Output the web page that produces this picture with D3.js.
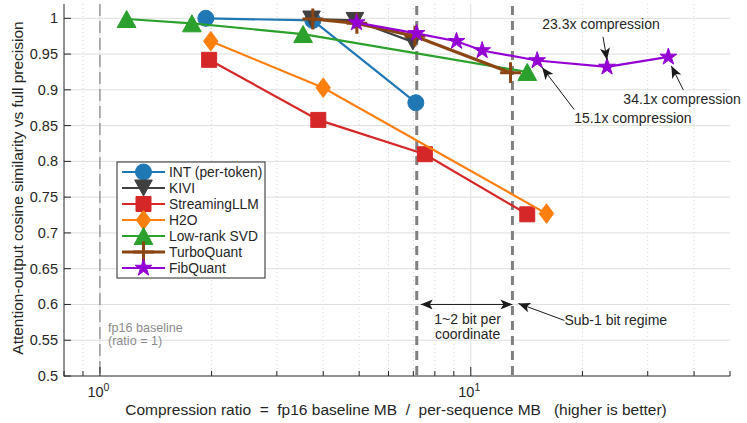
<!DOCTYPE html>
<html>
<head>
<meta charset="utf-8">
<script src="https://cdn.jsdelivr.net/npm/d3@7"></script>
<style>
  html, body { margin: 0; padding: 0; background: #fff; }
  svg { display: block; font-family: "Liberation Sans", Arial, Helvetica, sans-serif; }
</style>
</head>
<body>
<svg id="chart" width="747" height="423"></svg>
<script>
// ---------------- data ----------------
const seriesNames = ["INT (per-token)", "KIVI", "StreamingLLM", "H2O", "Low-rank SVD", "TurboQuant", "FibQuant"];
const seriesColors = ["#1f77b4", "#404040", "#d62728", "#ff7f0e", "#2ca02c", "#8b4513", "#9400d3"];
const seriesMarkers = ["circle", "triangleDown", "square", "diamond", "triangleUp", "plus", "star"];

const intX = [1.93, 3.75, 7.11];
const intY = [1.0, 0.997, 0.882];
const kiviX = [3.72, 4.87, 6.98];
const kiviY = [0.999, 0.997, 0.967];
const streamX = [1.97, 3.88, 7.52, 14.2];
const streamY = [0.942, 0.858, 0.810, 0.726];
const h2oX = [1.99, 4.0, 16.0];
const h2oY = [0.968, 0.903, 0.727];
const svdX = [1.18, 1.77, 3.53, 14.2];
const svdY = [0.999, 0.993, 0.978, 0.925];
const turboX = [3.75, 4.93, 7.07, 12.8];
const turboY = [0.999, 0.993, 0.975, 0.924];
const fibX = [4.92, 7.14, 9.15, 10.73, 15.1, 23.3, 34.1];
const fibY = [0.994, 0.979, 0.968, 0.955, 0.941, 0.932, 0.946];

const seriesXs = [intX, kiviX, streamX, h2oX, svdX, turboX, fibX];
const seriesYs = [intY, kiviY, streamY, h2oY, svdY, turboY, fibY];

const yTicks = [0.5, 0.55, 0.6, 0.65, 0.7, 0.75, 0.8, 0.85, 0.9, 0.95, 1];
const yTickLabels = ["0.5", "0.55", "0.6", "0.65", "0.7", "0.75", "0.8", "0.85", "0.9", "0.95", "1"];
const xMajorTicks = [1, 10];
const xMajorExp = ["0", "1"];
const xMinorTicks = [0.8, 0.9, 2, 3, 4, 5, 6, 7, 8, 9, 20, 30, 40, 50];

const regionLines = [7.15, 12.95];   // 1~2 bit per coordinate region bounds
const baselineRatio = 1;

// ---------------- layout ----------------
const svg = d3.select("#chart");
const plot = { left: 64, right: 730, top: 4, bottom: 376 };
const x = d3.scaleLog().domain([0.8, 50]).range([plot.left, plot.right]);
const y = d3.scaleLinear().domain([0.5, 1.02]).range([plot.bottom, plot.top]);

const g = svg.append("g");

// minor vertical grid (dotted)
g.selectAll(".minorgrid").data(xMinorTicks.filter(v => v > 0.8 && v < 50)).enter()
  .append("line")
  .attr("x1", d => x(d)).attr("x2", d => x(d))
  .attr("y1", plot.top).attr("y2", plot.bottom)
  .attr("stroke", "#d4d4d4").attr("stroke-width", 1).attr("stroke-dasharray", "1,3");

// major grid
g.selectAll(".hgrid").data(yTicks.filter(v => v > 0.5)).enter()
  .append("line")
  .attr("x1", plot.left).attr("x2", plot.right)
  .attr("y1", d => y(d)).attr("y2", d => y(d))
  .attr("stroke", "#dedede").attr("stroke-width", 1);
g.selectAll(".vgrid").data(xMajorTicks).enter()
  .append("line")
  .attr("x1", d => x(d)).attr("x2", d => x(d))
  .attr("y1", plot.top).attr("y2", plot.bottom)
  .attr("stroke", "#dedede").attr("stroke-width", 1);

// baseline dashed line
g.append("line")
  .attr("x1", x(baselineRatio)).attr("x2", x(baselineRatio))
  .attr("y1", plot.top).attr("y2", plot.bottom)
  .attr("stroke", "#707070").attr("stroke-width", 1).attr("stroke-dasharray", "12,5");

// region dashed lines
g.selectAll(".region").data(regionLines).enter()
  .append("line")
  .attr("x1", d => x(d)).attr("x2", d => x(d))
  .attr("y1", plot.top + 2).attr("y2", plot.bottom)
  .attr("stroke", "#808080").attr("stroke-width", 3).attr("stroke-dasharray", "9,6");

// axes lines
g.append("line").attr("x1", plot.left).attr("x2", plot.left).attr("y1", plot.top).attr("y2", plot.bottom + 0.5)
  .attr("stroke", "#262626").attr("stroke-width", 1);
g.append("line").attr("x1", plot.left).attr("x2", plot.right).attr("y1", plot.bottom).attr("y2", plot.bottom)
  .attr("stroke", "#262626").attr("stroke-width", 1);

// y ticks (inward)
g.selectAll(".ytick").data(yTicks).enter().append("line")
  .attr("x1", plot.left).attr("x2", plot.left + 7)
  .attr("y1", d => y(d)).attr("y2", d => y(d))
  .attr("stroke", "#262626");
g.selectAll(".ylab").data(yTicks).enter().append("text")
  .attr("x", plot.left - 6).attr("y", d => y(d))
  .attr("text-anchor", "end").attr("dominant-baseline", "central")
  .attr("font-size", 14.5).attr("fill", "#262626")
  .text((d, i) => yTickLabels[i]);

// x ticks
g.selectAll(".xmaj").data(xMajorTicks).enter().append("line")
  .attr("x1", d => x(d)).attr("x2", d => x(d))
  .attr("y1", plot.bottom).attr("y2", plot.bottom - 9)
  .attr("stroke", "#262626");
g.selectAll(".xmin").data(xMinorTicks).enter().append("line")
  .attr("x1", d => x(d)).attr("x2", d => x(d))
  .attr("y1", plot.bottom).attr("y2", plot.bottom - 5)
  .attr("stroke", "#262626");
const xl = g.selectAll(".xlab").data(xMajorTicks).enter().append("text")
  .attr("x", d => x(d) - 1.5).attr("y", plot.bottom + 21)
  .attr("text-anchor", "middle").attr("font-size", 14.5).attr("fill", "#262626");
xl.append("tspan").text("10");
xl.append("tspan").attr("dy", -6).attr("font-size", 10.5).text((d, i) => xMajorExp[i]);

// axis titles
svg.append("text")
  .attr("x", 396).attr("y", 415)
  .attr("text-anchor", "middle").attr("font-size", 15.5).attr("fill", "#262626")
  .attr("xml:space", "preserve")
  .text("Compression ratio  =  fp16 baseline MB  /  per-sequence MB   (higher is better)");
svg.append("text")
  .attr("transform", "translate(23,188) rotate(-90)")
  .attr("text-anchor", "middle").attr("font-size", 15.5).attr("fill", "#262626")
  .text("Attention-output cosine similarity vs full precision");

// ---------------- markers ----------------
function markerPath(type, s) {
  const h = s / 2;
  switch (type) {
    case "circle": return d3.symbol(d3.symbolCircle, Math.PI * h * h)();
    case "square": return `M${-h},${-h}H${h}V${h}H${-h}Z`;
    case "diamond": { const w = h * 0.85, t = h * 1.15; return `M0,${-t}L${w},0L0,${t}L${-w},0Z`; }
    case "triangleUp": { const w = h * 1.1, t = h; return `M0,${-t}L${w},${t}L${-w},${t}Z`; }
    case "triangleDown": { const w = h * 1.1, t = h; return `M0,${t}L${w},${-t}L${-w},${-t}Z`; }
    case "plus": return `M${-h * 1.3},0H${h * 1.3}M0,${-h * 1.3}V${h * 1.3}`;
    case "star": return d3.symbol(d3.symbolStar, s * s * 0.45)();
  }
}
const markerSize = [16, 16, 15, 17, 17, 16, 14];
const lineWidths = [2.2, 2.2, 2.2, 2.2, 2.2, 3.2, 2.2];

function drawSeries(i) {
  const pts = seriesXs[i].map((v, k) => [v, seriesYs[i][k]]);
  const col = seriesColors[i];
  g.append("path")
    .attr("d", d3.line().x(d => x(d[0])).y(d => y(d[1]))(pts))
    .attr("fill", "none").attr("stroke", col).attr("stroke-width", lineWidths[i]);
  const type = seriesMarkers[i];
  g.selectAll(null).data(pts).enter().append("path")
    .attr("transform", d => `translate(${x(d[0])},${y(d[1])})`)
    .attr("d", markerPath(type, markerSize[i]))
    .attr("fill", type === "plus" ? "none" : col)
    .attr("stroke", col).attr("stroke-width", type === "plus" ? 3 : 1);
}
seriesNames.forEach((n, i) => drawSeries(i));

// ---------------- legend ----------------
const leg = svg.append("g").attr("transform", "translate(117,162)");
leg.append("rect").attr("x", 0).attr("y", 0).attr("width", 148).attr("height", 116)
  .attr("fill", "#fff").attr("stroke", "#262626").attr("stroke-width", 1);
seriesNames.forEach((n, i) => {
  const cy = 10 + i * 16;
  const col = seriesColors[i];
  const type = seriesMarkers[i];
  leg.append("line").attr("x1", 5).attr("x2", 48).attr("y1", cy).attr("y2", cy)
    .attr("stroke", col).attr("stroke-width", lineWidths[i]);
  leg.append("path").attr("transform", `translate(26.5,${cy})`)
    .attr("d", markerPath(type, markerSize[i]))
    .attr("fill", type === "plus" ? "none" : col)
    .attr("stroke", col).attr("stroke-width", type === "plus" ? 3 : 1);
  leg.append("text").attr("x", 52).attr("y", cy).attr("dominant-baseline", "central")
    .attr("font-size", 13.8).attr("fill", "#262626").text(n);
});

// ---------------- annotations ----------------
const defs = svg.append("defs");
defs.append("marker").attr("id", "ah").attr("viewBox", "0 0 12 10").attr("refX", 12).attr("refY", 5)
  .attr("markerWidth", 12).attr("markerHeight", 10).attr("markerUnits", "userSpaceOnUse")
  .attr("orient", "auto-start-reverse")
  .append("path").attr("d", "M0,0L12,5L0,10L3,5Z").attr("fill", "#1a1a1a");

function arrow(x1, y1, x2, y2, both) {
  const l = svg.append("line").attr("x1", x1).attr("y1", y1).attr("x2", x2).attr("y2", y2)
    .attr("stroke", "#1a1a1a").attr("stroke-width", 1).attr("marker-end", "url(#ah)");
  if (both) l.attr("marker-start", "url(#ah)");
}
function label(tx, ty, txt, anchor, col, size) {
  svg.append("text").attr("x", tx).attr("y", ty).attr("text-anchor", anchor || "start")
    .attr("dominant-baseline", "central").attr("font-size", size || 14).attr("fill", col || "#262626").text(txt);
}

// point-anchored callouts (FibQuant points)
const px23 = x(fibX[5]), py23 = y(fibY[5]);
arrow(px23 - 4, py23 - 30, px23, py23 - 7);
label(px23 - 6, py23 - 43, "23.3x compression", "middle");

const px34 = x(fibX[6]), py34 = y(fibY[6]);
arrow(px34 + 15, py34 + 33, px34 + 3, py34 + 9);
label(px34 - 45, py34 + 42, "34.1x compression", "start");

const px15 = x(fibX[4]), py15 = y(fibY[4]);
arrow(px15 + 37, py15 + 49, px15 + 5, py15 + 7);
label(px15 + 37, py15 + 57, "15.1x compression", "start");

// region annotation
const r1 = x(regionLines[0]), r2 = x(regionLines[1]), ry = y(0.6);
arrow(r1 + 4, ry, r2, ry, true);
label((r1 + r2) / 2 + 3, ry + 15, "1~2 bit per", "middle");
label((r1 + r2) / 2 + 3, ry + 30, "coordinate", "middle");
arrow(r2 + 52, ry + 16, r2 + 6, ry - 1);
label(r2 + 52, ry + 16, "Sub-1 bit regime", "start");

// baseline text
label(x(baselineRatio) + 8, y(0.567), "fp16 baseline", "start", "#8c8c8c", 12.6);
label(x(baselineRatio) + 8, y(0.5495), "(ratio = 1)", "start", "#8c8c8c", 12.6);
</script>
</body>
</html>
